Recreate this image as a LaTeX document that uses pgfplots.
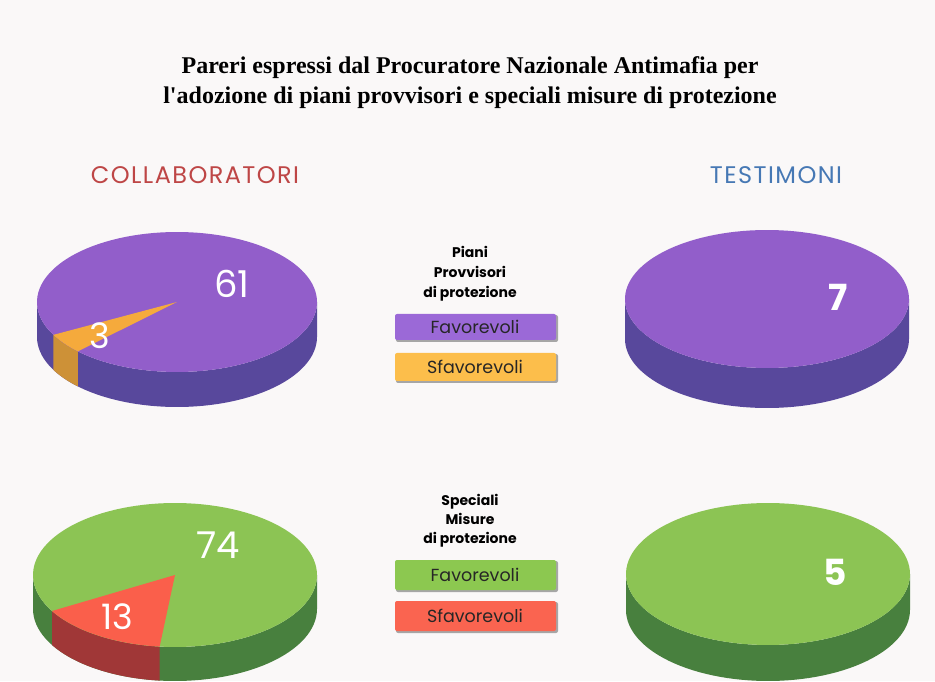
\documentclass[border=0pt]{standalone}
\usepackage{pgfplots}
\pgfplotsset{compat=1.18}
\usepackage{fontspec}
\setmainfont{Liberation Serif}
\newfontfamily\comic{Poppins}
\newfontfamily\comicsp{Poppins}[LetterSpace=6]
\definecolor{bg}{RGB}{250,248,248}
\definecolor{purT}{RGB}{146,94,202}
\definecolor{purS}{RGB}{88,72,156}
\definecolor{oraT}{RGB}{245,170,60}
\definecolor{oraS}{RGB}{205,145,55}
\definecolor{greT}{RGB}{140,196,84}
\definecolor{greS}{RGB}{72,128,62}
\definecolor{redT}{RGB}{250,95,75}
\definecolor{redS}{RGB}{160,55,55}
\definecolor{purL}{RGB}{155,105,215}
\definecolor{oraL}{RGB}{252,190,75}
\definecolor{greL}{RGB}{140,200,80}
\definecolor{redL}{RGB}{250,100,80}
\definecolor{collab}{RGB}{190,70,70}
\definecolor{testi}{RGB}{70,120,180}
% data
\def\cpFav{61}\def\cpSfav{3}
\def\tpFav{7}
\def\csFav{74}\def\csSfav{13}
\def\tsFav{5}
\pgfmathsetmacro\cpA{208}
\pgfmathsetmacro\cpB{208+360*\cpSfav/(\cpFav+\cpSfav)}
\pgfmathsetmacro\csA{210}
\pgfmathsetmacro\csB{210+360*\csSfav/(\csFav+\csSfav)}
% cx cy rx ry depth a b color
\newcommand\pieside[8]{\fill[#8] plot[variable=\t,domain=#6:#7,samples=60] ({#1+#3*cos(\t)},{#2+#4*sin(\t)}) -- plot[variable=\t,domain=#7:#6,samples=60] ({#1+#3*cos(\t)},{#2-#5+#4*sin(\t)}) -- cycle;}
% cx cy rx ry color
\newcommand\pietop[5]{\fill[#5] plot[variable=\t,domain=0:360,samples=120] ({#1+#3*cos(\t)},{#2+#4*sin(\t)}) -- cycle;}
% cx cy rx ry a b color
\newcommand\piewedge[7]{\fill[#7] (#1,#2) -- plot[variable=\t,domain=#5:#6,samples=40] ({#1+#3*cos(\t)},{#2+#4*sin(\t)}) -- cycle;}
\newcommand\legbox[4]{\fill[black!35,rounded corners=2pt] (396,#1-2) rectangle (558,#2-1);
\fill[#3,rounded corners=2pt] (395,#1) rectangle (556,#2);
\node[font=\comic\fontsize{17.5}{17.5}\selectfont,text=black!85] at (475,{(#1+#2)/2}) {#4};}
\begin{document}
\begin{tikzpicture}
\begin{axis}[scale only axis,width=935pt,height=681pt,xmin=0,xmax=935,ymin=0,ymax=681,hide axis,clip=false]
\fill[bg] (0,0) rectangle (935,681);
% title
\node[font=\bfseries\fontsize{24}{30}\selectfont,align=center] at (470,598) {Pareri espressi dal Procuratore Nazionale Antimafia per\\l\textquotesingle adozione di piani provvisori e speciali misure di protezione};
\node[font=\comicsp\fontsize{24}{24}\selectfont,text=collab] at (195,506) {COLLABORATORI};
\node[font=\comicsp\fontsize{24}{24}\selectfont,text=testi] at (776,506) {TESTIMONI};
% pie 1: collaboratori, piani provvisori
\pieside{177}{379}{140}{70}{35}{180}{360}{purS}
\pieside{177}{379}{140}{70}{35}{\cpA}{\cpB}{oraS}
\pietop{177}{379}{140}{70}{purT}
\piewedge{177}{379}{140}{70}{\cpA}{\cpB}{oraT}
\node[font=\comic\fontsize{37}{37}\selectfont,text=white] at (232,397) {\cpFav};
\node[font=\comic\fontsize{35}{35}\selectfont,text=white] at (100,345) {\cpSfav};
% pie 2: testimoni, piani provvisori
\pieside{767}{382}{142}{69}{40}{180}{360}{purS}
\pietop{767}{382}{142}{69}{purT}
\node[font=\comic\bfseries\fontsize{36}{36}\selectfont,text=white] at (838,384) {\tpFav};
% pie 3: collaboratori, speciali misure
\pieside{175}{106}{142}{72}{34}{180}{360}{greS}
\pieside{175}{106}{142}{72}{34}{\csA}{\csB}{redS}
\pietop{175}{106}{142}{72}{greT}
\piewedge{175}{106}{142}{72}{\csA}{\csB}{redT}
\node[font=\comic\fontsize{37}{37}\selectfont,text=white] at (218,136) {\csFav};
\node[font=\comic\fontsize{35}{35}\selectfont,text=white] at (117,64) {\csSfav};
% pie 4: testimoni, speciali misure
\pieside{768}{107}{142}{71}{36}{180}{360}{greS}
\pietop{768}{107}{142}{71}{greT}
\node[font=\comic\bfseries\fontsize{36}{36}\selectfont,text=white] at (835,109) {\tsFav};
% legends
\node[font=\comic\bfseries\fontsize{14}{20}\selectfont,align=center] at (470,407) {Piani\\Provvisori\\di protezione};
\legbox{341}{367}{purL}{Favorevoli}
\legbox{300}{328}{oraL}{Sfavorevoli}
\node[font=\comic\bfseries\fontsize{14}{19}\selectfont,align=center] at (470,160) {Speciali\\Misure\\di protezione};
\legbox{91}{121}{greL}{Favorevoli}
\legbox{50}{80}{redL}{Sfavorevoli}
\end{axis}
\end{tikzpicture}
\end{document}
